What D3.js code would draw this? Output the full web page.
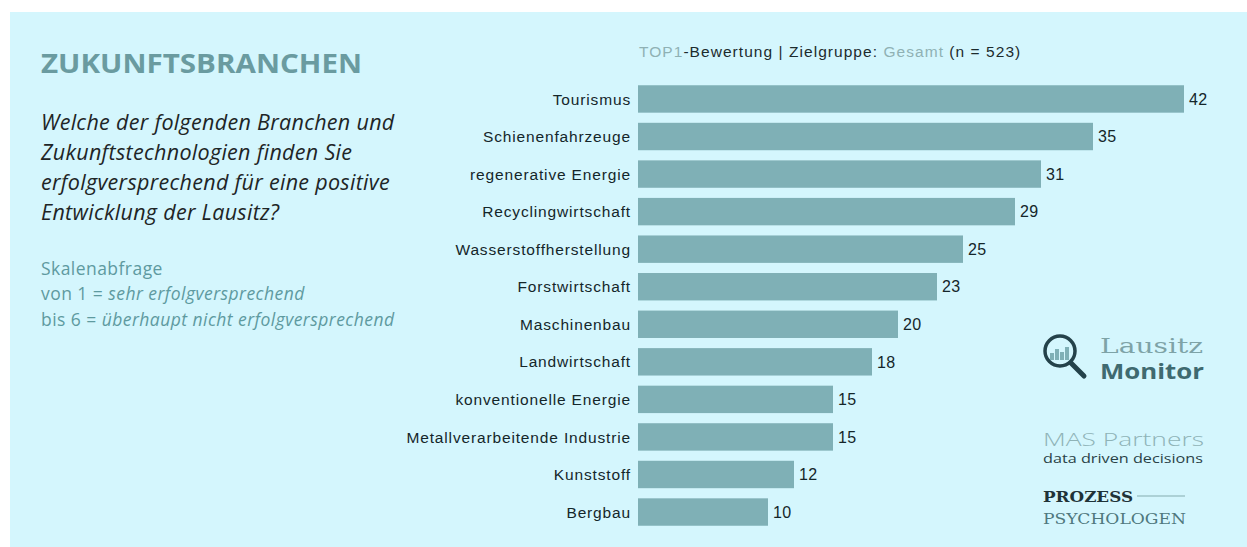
<!DOCTYPE html>
<html>
<head>
<meta charset="utf-8">
<script src="https://cdn.jsdelivr.net/npm/d3@7"></script>
<style>
  body { margin: 0; background: #fff; }
  svg { display: block; }
</style>
</head>
<body>
<div id="chart"></div>
<script>
// data
var branchen = ["Tourismus", "Schienenfahrzeuge", "regenerative Energie", "Recyclingwirtschaft",
  "Wasserstoffherstellung", "Forstwirtschaft", "Maschinenbau", "Landwirtschaft",
  "konventionelle Energie", "Metallverarbeitende Industrie", "Kunststoff", "Bergbau"];
var top1Werte = [42, 35, 31, 29, 25, 23, 20, 18, 15, 15, 12, 10];

var frageZeilen = ["Welche der folgenden Branchen und", "Zukunftstechnologien finden Sie",
  "erfolgversprechend für eine positive", "Entwicklung der Lausitz?"];

var width = 1247, height = 547;
var margin = {top: 85, left: 638, right: 63, bottom: 20};

var svg = d3.select("#chart").append("svg")
  .attr("width", width)
  .attr("height", height);

// panel
svg.append("rect")
  .attr("x", 10).attr("y", 12)
  .attr("width", width - 10).attr("height", height - 12)
  .attr("fill", "#d4f6fd");

// left column texts
svg.append("text")
  .attr("x", 41).attr("y", 73)
  .attr("font-family", "'Open Sans', sans-serif")
  .attr("font-weight", 700)
  .attr("font-size", 27)
  .attr("fill", "#6a9ba0")
  .attr("textLength", 321)
  .attr("lengthAdjust", "spacingAndGlyphs")
  .text("ZUKUNFTSBRANCHEN");

svg.selectAll(".frage")
  .data(frageZeilen)
  .enter()
  .append("text")
    .attr("class", "frage")
    .attr("x", 41)
    .attr("y", function(d, i){ return 130 + i * 30; })
    .attr("font-family", "'Open Sans', sans-serif")
    .attr("font-style", "italic")
    .attr("font-size", 21.5)
    .attr("letter-spacing", 0.3)
    .attr("fill", "#1e2526")
    .text(function(d){ return d; });

var skala = svg.append("g")
  .attr("font-family", "'Open Sans', sans-serif")
  .attr("font-size", 17.5)
  .attr("letter-spacing", 0.45)
  .attr("fill", "#5e9aa0");
skala.append("text").attr("x", 41).attr("y", 275).text("Skalenabfrage");
var s2 = skala.append("text").attr("x", 41).attr("y", 300);
s2.append("tspan").text("von 1 = ");
s2.append("tspan").attr("font-style", "italic").text("sehr erfolgversprechend");
var s3 = skala.append("text").attr("x", 41).attr("y", 326);
s3.append("tspan").text("bis 6 = ");
s3.append("tspan").attr("font-style", "italic").text("überhaupt nicht erfolgversprechend");

// chart header
var header = svg.append("text")
  .attr("x", 639).attr("y", 57)
  .attr("font-family", "'Liberation Sans', Arial, sans-serif")
  .attr("font-size", 15.5)
  .attr("letter-spacing", 1.05)
  .attr("fill", "#1c2b2d");
header.append("tspan").attr("fill", "#8fb1b4").text("TOP1");
header.append("tspan").text("-Bewertung | Zielgruppe: ");
header.append("tspan").attr("fill", "#8fb1b4").text("Gesamt");
header.append("tspan").text(" (n = 523)");

// scales
var xscale = d3.scaleLinear()
  .domain([0, 42])
  .range([margin.left, 1184]);

var yscale = d3.scaleBand()
  .domain(branchen)
  .range([margin.top - 5, 531])
  .paddingInner(0.27)
  .paddingOuter(0.14);

var data = branchen.map(function(d, i){ return {name: d, value: top1Werte[i]}; });

svg.selectAll(".bar")
  .data(data)
  .enter()
  .append("rect")
    .attr("class", "bar")
    .attr("x", xscale(0))
    .attr("y", function(d){ return yscale(d.name); })
    .attr("width", function(d){ return xscale(d.value) - xscale(0); })
    .attr("height", yscale.bandwidth())
    .attr("fill", "#7fb0b6");

svg.selectAll(".catLabel")
  .data(data)
  .enter()
  .append("text")
    .attr("class", "catLabel")
    .attr("x", xscale(0) - 7)
    .attr("y", function(d){ return yscale(d.name) + yscale.bandwidth() / 2; })
    .attr("dy", "0.36em")
    .attr("text-anchor", "end")
    .attr("font-family", "'Liberation Sans', Arial, sans-serif")
    .attr("font-size", 15.5)
    .attr("letter-spacing", 0.85)
    .attr("fill", "#14262a")
    .text(function(d){ return d.name; });

svg.selectAll(".valLabel")
  .data(data)
  .enter()
  .append("text")
    .attr("class", "valLabel")
    .attr("x", function(d){ return xscale(d.value) + 5; })
    .attr("y", function(d){ return yscale(d.name) + yscale.bandwidth() / 2; })
    .attr("dy", "0.36em")
    .attr("font-family", "'Liberation Sans', Arial, sans-serif")
    .attr("font-size", 16)
    .attr("letter-spacing", 0.4)
    .attr("fill", "#14262a")
    .text(function(d){ return d.value; });

// logos
var logo = svg.append("g");
// magnifier
logo.append("circle").attr("cx", 1060).attr("cy", 351).attr("r", 15)
  .attr("fill", "none").attr("stroke", "#24424a").attr("stroke-width", 3.5);
[[1052, 7], [1057, 11], [1062, 8], [1067, 13]].forEach(function(b){
  logo.append("rect").attr("x", b[0] - 2).attr("y", 360 - b[1]).attr("width", 4).attr("height", b[1])
    .attr("fill", "#7fb0b6");
});
logo.append("line").attr("x1", 1071).attr("y1", 363).attr("x2", 1084).attr("y2", 376)
  .attr("stroke", "#24424a").attr("stroke-width", 5).attr("stroke-linecap", "round");
logo.append("text").attr("x", 1100).attr("y", 353)
  .attr("font-family", "'DejaVu Serif', serif").attr("font-size", 20)
  .attr("fill", "#7ea3a7").attr("textLength", 103).attr("lengthAdjust", "spacingAndGlyphs")
  .text("Lausitz");
logo.append("text").attr("x", 1100).attr("y", 379)
  .attr("font-family", "'Open Sans', sans-serif").attr("font-weight", 700).attr("font-size", 21)
  .attr("fill", "#3f6a70").attr("textLength", 104).attr("lengthAdjust", "spacingAndGlyphs")
  .text("Monitor");

logo.append("text").attr("x", 1043).attr("y", 446)
  .attr("font-family", "'Open Sans', sans-serif").attr("font-weight", 300).attr("font-size", 19)
  .attr("fill", "#8fb3b7").attr("textLength", 161).attr("lengthAdjust", "spacingAndGlyphs")
  .text("MAS Partners");
logo.append("text").attr("x", 1043).attr("y", 463)
  .attr("font-family", "'Open Sans', sans-serif").attr("font-size", 12.5)
  .attr("fill", "#2a4247").attr("textLength", 160).attr("lengthAdjust", "spacingAndGlyphs")
  .text("data driven decisions");

logo.append("text").attr("x", 1043).attr("y", 502)
  .attr("font-family", "'DejaVu Serif', serif").attr("font-weight", 700).attr("font-size", 14)
  .attr("fill", "#1f3338").attr("textLength", 90).attr("lengthAdjust", "spacingAndGlyphs")
  .text("PROZESS");
logo.append("line").attr("x1", 1137).attr("y1", 496).attr("x2", 1185).attr("y2", 496)
  .attr("stroke", "#9fc4c8").attr("stroke-width", 1.5);
logo.append("text").attr("x", 1043).attr("y", 524)
  .attr("font-family", "'DejaVu Serif', serif").attr("font-size", 14)
  .attr("fill", "#4f787d").attr("textLength", 143).attr("lengthAdjust", "spacingAndGlyphs")
  .text("PSYCHOLOGEN");
</script>
</body>
</html>
